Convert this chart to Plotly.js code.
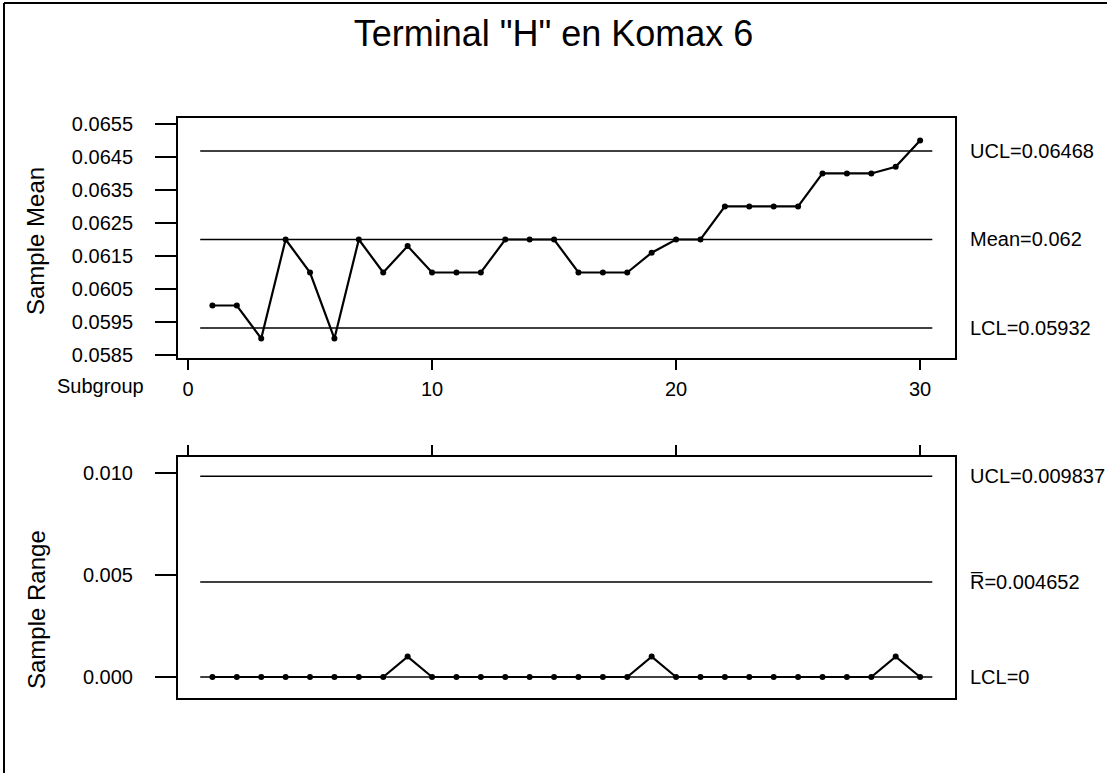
<!DOCTYPE html>
<html>
<head>
<meta charset="utf-8">
<script src="https://cdn.plot.ly/plotly-3.0.1.min.js"></script>
<style>html,body{margin:0;padding:0;background:#fff;}#chart{width:1107px;height:773px;}</style>
</head>
<body>
<div id="chart"></div>
<script>
const subgroups = [1,2,3,4,5,6,7,8,9,10,11,12,13,14,15,16,17,18,19,20,21,22,23,24,25,26,27,28,29,30];
const sampleMeans = [0.0600,0.0600,0.0590,0.0620,0.0610,0.0590,0.0620,0.0610,0.0618,0.0610,
                     0.0610,0.0610,0.0620,0.0620,0.0620,0.0610,0.0610,0.0610,0.0616,0.0620,
                     0.0620,0.0630,0.0630,0.0630,0.0630,0.0640,0.0640,0.0640,0.0642,0.0650];
const sampleRanges = [0,0,0,0,0,0,0,0,0.001,0,
                      0,0,0,0,0,0,0,0,0.001,0,
                      0,0,0,0,0,0,0,0,0.001,0];
const meanLimits = {UCL: 0.06468, Mean: 0.062, LCL: 0.05932};
const rangeLimits = {UCL: 0.009837, Rbar: 0.004652, LCL: 0};
const meanLimitLabels = ["UCL=0.06468", "Mean=0.062", "LCL=0.05932"];
const rangeLimitLabels = ["UCL=0.009837", "R\u0305=0.004652", "LCL=0"];
const meanTicks = [0.0585,0.0595,0.0605,0.0615,0.0625,0.0635,0.0645,0.0655];
const rangeTicks = [0, 0.005, 0.010];
const xTicks = [0, 10, 20, 30];

const FONT = "Liberation Sans, Arial, Helvetica, sans-serif";
const W = 1107, H = 773;
const px = v => v / W;
const py = v => 1 - v / H;

const n = subgroups.length;
const lineX = [subgroups[0] - 0.5, subgroups[n - 1] + 0.5];

function limitTrace(val, xa, ya) {
  return {x: lineX, y: [val, val], xaxis: xa, yaxis: ya, mode: 'lines',
          line: {color: '#000', width: 1.6}, hoverinfo: 'skip', showlegend: false};
}

const traces = [
  limitTrace(meanLimits.UCL, 'x', 'y'),
  limitTrace(meanLimits.Mean, 'x', 'y'),
  limitTrace(meanLimits.LCL, 'x', 'y'),
  {x: subgroups, y: sampleMeans, xaxis: 'x', yaxis: 'y', mode: 'lines+markers',
   line: {color: '#000', width: 2.2}, marker: {color: '#000', size: 6}, showlegend: false},
  limitTrace(rangeLimits.UCL, 'x2', 'y2'),
  limitTrace(rangeLimits.Rbar, 'x2', 'y2'),
  limitTrace(rangeLimits.LCL, 'x2', 'y2'),
  {x: subgroups, y: sampleRanges, xaxis: 'x2', yaxis: 'y2', mode: 'lines+markers',
   line: {color: '#000', width: 2.2}, marker: {color: '#000', size: 6}, showlegend: false}
];

const xDomain = [px(178), px(955)];
const xRange = [-0.41, 31.43];
const small = {family: FONT, size: 20, color: '#000'};

const annotations = [];
const meanVals = [meanLimits.UCL, meanLimits.Mean, meanLimits.LCL];
meanVals.forEach((v, i) => annotations.push({xref: 'paper', yref: 'y', x: px(968), y: v,
  text: meanLimitLabels[i], showarrow: false, xanchor: 'left', yanchor: 'middle', font: small}));
const rangeVals = [rangeLimits.UCL, rangeLimits.Rbar, rangeLimits.LCL];
rangeVals.forEach((v, i) => annotations.push({xref: 'paper', yref: 'y2', x: px(968), y: v,
  text: rangeLimitLabels[i], showarrow: false, xanchor: 'left', yanchor: 'middle', font: small}));
annotations.push({xref: 'paper', yref: 'paper', x: px(36), y: py(241), text: 'Sample Mean',
  textangle: -90, showarrow: false, xanchor: 'center', yanchor: 'middle', font: {family: FONT, size: 24, color: '#000'}});
annotations.push({xref: 'paper', yref: 'paper', x: px(36), y: py(610), text: 'Sample Range',
  textangle: -90, showarrow: false, xanchor: 'center', yanchor: 'middle', font: {family: FONT, size: 24, color: '#000'}});
annotations.push({xref: 'paper', yref: 'paper', x: px(146), y: py(386), text: 'Subgroup',
  showarrow: false, xanchor: 'right', yanchor: 'middle', font: small});

const layout = {
  width: W, height: H,
  margin: {l: 0, r: 0, t: 0, b: 0},
  paper_bgcolor: '#fff', plot_bgcolor: '#fff',
  showlegend: false,
  title: {text: 'Terminal "H" en Komax 6', font: {family: FONT, size: 36, color: '#000'},
          x: 0.5, xanchor: 'center', y: py(33), yanchor: 'middle', xref: 'paper', yref: 'paper'},
  xaxis: {domain: xDomain, range: xRange, anchor: 'y', tickvals: xTicks, ticks: 'outside',
          ticklen: 10, tickwidth: 2, tickcolor: '#000', showgrid: false, zeroline: false,
          showline: true, mirror: true, linecolor: '#000', linewidth: 2,
          tickfont: small, ticklabelstandoff: 2},
  yaxis: {domain: [py(358), py(118)], range: [0.05841, 0.06568], anchor: 'x',
          tickvals: meanTicks, tickformat: '.4f', ticks: 'outside', ticklen: 21, tickwidth: 2,
          tickcolor: '#000', showgrid: false, zeroline: false, showline: true, mirror: true,
          linecolor: '#000', linewidth: 2, tickfont: small, ticklabelstandoff: 18},
  xaxis2: {domain: xDomain, range: xRange, anchor: 'y2', side: 'top', tickvals: xTicks,
           ticks: 'outside', ticklen: 10, tickwidth: 2, tickcolor: '#000', showticklabels: false,
           showgrid: false, zeroline: false, showline: true, mirror: true, linecolor: '#000', linewidth: 2},
  yaxis2: {domain: [py(698), py(457)], range: [-0.00103, 0.01078], anchor: 'x2',
           tickvals: rangeTicks, tickformat: '.3f', ticks: 'outside', ticklen: 21, tickwidth: 2,
           tickcolor: '#000', showgrid: false, zeroline: false, showline: true, mirror: true,
           linecolor: '#000', linewidth: 2, tickfont: small, ticklabelstandoff: 18},
  annotations: annotations,
  shapes: [
    {type: 'line', xref: 'paper', yref: 'paper', x0: px(4), x1: px(4), y0: 0, y1: py(3),
     line: {color: '#000', width: 2}},
    {type: 'line', xref: 'paper', yref: 'paper', x0: px(4), x1: 1, y0: py(3), y1: py(3),
     line: {color: '#000', width: 2}}
  ]
};

Plotly.newPlot('chart', traces, layout, {staticPlot: true, displayModeBar: false});
</script>
</body>
</html>
